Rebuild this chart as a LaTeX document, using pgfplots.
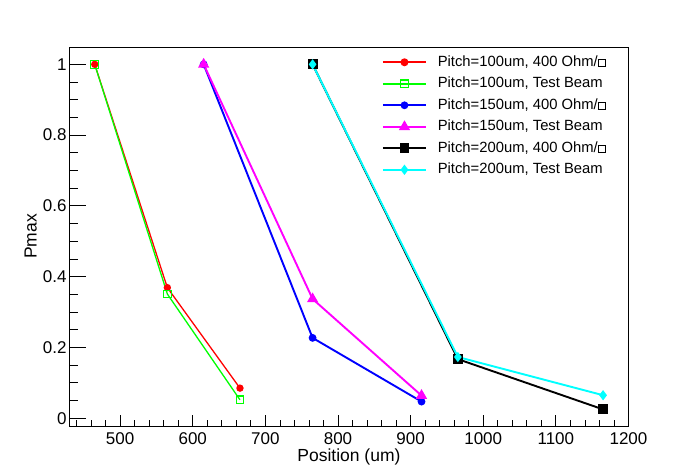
\documentclass[border=0pt]{standalone}
\usepackage{fontspec}
\setmainfont{Liberation Sans}
\usepackage{pgfplots}
\pgfplotsset{compat=1.18}
\definecolor{rRed}{rgb}{1,0,0}
\definecolor{rGreen}{rgb}{0,1,0}
\definecolor{rBlue}{rgb}{0,0,1}
\definecolor{rMag}{rgb}{1,0,1}
\definecolor{rCyan}{rgb}{0,1,1}
\newcommand{\sq}{{\setlength{\fboxsep}{0pt}\setlength{\fboxrule}{1.3bp}\raisebox{0.3bp}{\fbox{\rule{0pt}{5.6bp}\rule{5.6bp}{0pt}}}}}
\begin{document}
\begin{tikzpicture}
\begin{axis}[
  scale only axis, width=559.2bp, height=379bp,
  xmin=430, xmax=1200, ymin=-0.022, ymax=1.049,
  axis line style={line width=0.8bp},
  tick style={black, line width=0.8bp},
  xtick={500,600,700,800,900,1000,1100,1200},
  minor xtick={440,460,480,520,540,560,580,620,640,660,680,720,740,760,780,820,840,860,880,920,940,960,980,1020,1040,1060,1080,1120,1140,1160,1180},
  ytick={0,0.2,0.4,0.6,0.8,1},
  minor ytick={},
  tick align=inside, xtick pos=bottom, ytick pos=left,
  major tick length=11bp, minor tick length=6bp,
  /pgf/number format/assume math mode=true,
  /pgf/number format/1000 sep={},
  ticklabel style={font=\fontsize{17bp}{20bp}\selectfont},
  xticklabel style={anchor=north, inner ysep=0pt, yshift=-6.3bp},
  yticklabel style={anchor=east, inner xsep=0pt, xshift=-2.6bp},
  label style={font=\fontsize{17.5bp}{20bp}\selectfont, inner sep=0pt},
  xlabel={Position (um)},
  xlabel style={at={(axis description cs:0.5,-0.0942)}, anchor=base},
  ylabel={Pmax},
  ylabel style={at={(axis description cs:-0.0583,0.5)}, anchor=base},
  legend cell align=left,
  legend image code/.code={\draw[line width=1.9bp, mark repeat=2,mark phase=2] plot coordinates {(0bp,0bp) (21.6bp,0bp) (43.3bp,0bp)};},
  legend style={at={(axis description cs:0.5587,0.978)}, anchor=north west,
    draw=none, fill=white, inner sep=0pt, row sep=8bp, column sep=10.7bp,
    font=\fontsize{14.8bp}{16bp}\selectfont,
    nodes={inner sep=0pt, text height=10.5bp, text depth=3bp}},
]
\addplot[rRed, line width=1.3bp, mark=*, mark size=3bp, mark options={solid}] coordinates {(465,1) (565,0.369) (665,0.085)};
\addlegendentry{Pitch=100um, 400 Ohm/\sq}
\addplot[rGreen, line width=1.3bp, mark=square, mark size=3.8bp, mark options={solid, line width=1.1bp}] coordinates {(465,1) (565,0.351) (665,0.052)};
\addlegendentry{Pitch=100um, Test Beam}
\addplot[rBlue, line width=1.9bp, mark=*, mark size=2.9bp, mark options={solid}] coordinates {(615,1) (765,0.227) (915,0.047)};
\addlegendentry{Pitch=150um, 400 Ohm/\sq}
\addplot[rMag, line width=1.9bp, mark=triangle*, mark size=4.6bp, mark options={solid}] coordinates {(615,1) (765,0.337) (915,0.064)};
\addlegendentry{Pitch=150um, Test Beam}
\addplot[black, line width=1.9bp, mark=square*, mark size=4bp, mark options={solid}] coordinates {(765,1) (965,0.167) (1165,0.025)};
\addlegendentry{Pitch=200um, 400 Ohm/\sq}
\addplot[rCyan, line width=1.9bp, mark=diamond*, mark size=3.6bp, mark options={solid}] coordinates {(765,1) (965,0.173) (1165,0.065)};
\addlegendentry{Pitch=200um, Test Beam}
\end{axis}
\begin{axis}[
  scale only axis, width=559.2bp, height=379bp,
  xmin=430, xmax=1200, ymin=-0.022, ymax=1.049,
  hide x axis, axis line style={draw=none},
  tick style={black, line width=0.8bp},
  ytick={0,0.2,0.4,0.6,0.8,1},
  minor ytick={0.05,0.1,0.15,0.25,0.3,0.35,0.45,0.5,0.55,0.65,0.7,0.75,0.85,0.9,0.95},
  yticklabels={},
  tick align=inside, ytick pos=left,
  major tick length=17bp, minor tick length=8.6bp,
]
\end{axis}
\pgfresetboundingbox
\path[use as bounding box] (-69.3bp,-48bp) rectangle (628.7bp,426bp);
\end{tikzpicture}
\end{document}
